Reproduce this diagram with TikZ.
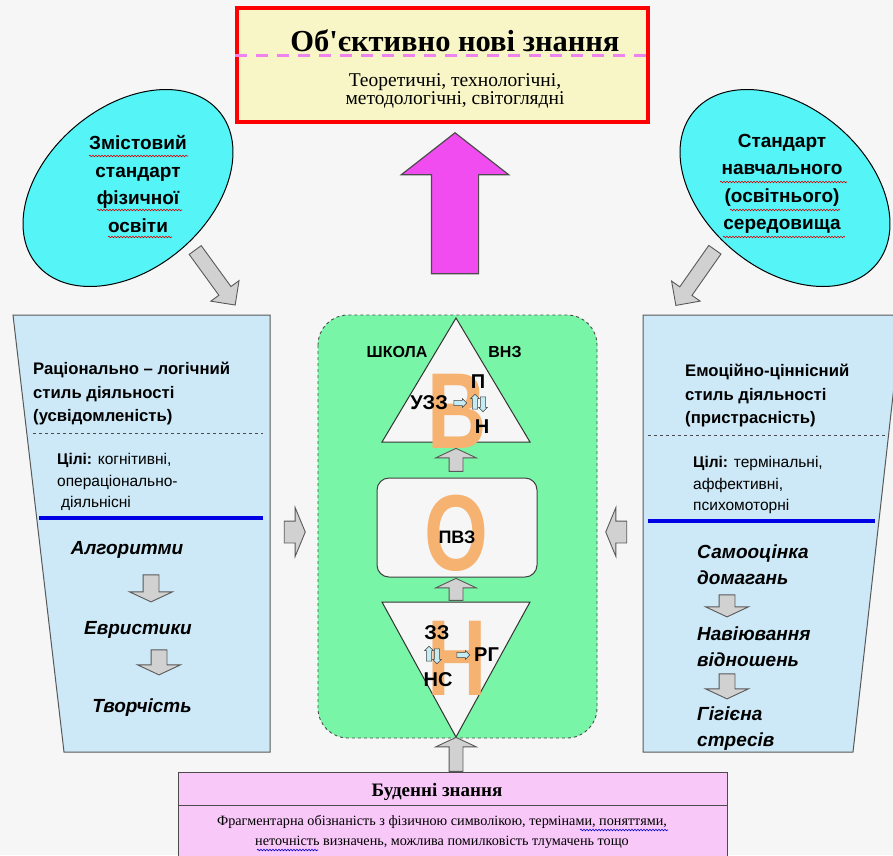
\documentclass[tikz,border=0pt]{standalone}
\usepackage{fontspec}
\setmainfont{Liberation Serif}[Ligatures=TeXOff]
\setsansfont{Liberation Sans}
\usetikzlibrary{shapes.geometric,shapes.arrows,decorations.pathmorphing}

\definecolor{bgcol}{HTML}{F6F6F6}
\definecolor{yellowbox}{HTML}{F8F6C6}
\definecolor{dashpink}{HTML}{EE82EE}
\definecolor{magentaarr}{HTML}{F04CF0}
\definecolor{cyanoval}{HTML}{55F4F7}
\definecolor{panelblue}{HTML}{CDE8F6}
\definecolor{greenbox}{HTML}{78F5A6}
\definecolor{letterorange}{HTML}{F5B270}
\definecolor{pinkbox}{HTML}{F8C8F8}
\definecolor{lightarr}{HTML}{C4ECF4}

\newcommand{\orangeletter}[1]{\scalebox{0.76}[1]{#1}}

\begin{document}
\begin{tikzpicture}[x=1pt,y=-1pt,
	grayarr/.style 2 args={single arrow, draw=black!65, fill=black!18, line width=0.9pt,
		inner xsep=0pt, inner ysep=#1, single arrow head extend=#2},
	smallarr/.style={single arrow, draw=black!75, fill=lightarr, line width=0.5pt,
		inner xsep=0pt, inner ysep=2.3pt, single arrow head extend=1.8pt, minimum height=13pt},
	hdr/.style={font=\fontsize{16.7}{23.5}\selectfont\sffamily\bfseries, align=left, anchor=west, inner sep=0pt},
	goal/.style={font=\fontsize{15.5}{21.5}\selectfont\sffamily, align=left, anchor=west, inner sep=0pt},
	item/.style={font=\fontsize{19}{26}\selectfont\sffamily\bfseries\itshape, align=left, inner sep=0pt},
	oval/.style={ellipse, draw=black, line width=1pt, fill=cyanoval, minimum width=238pt, minimum height=162pt},
	ovaltext/.style={font=\fontsize{19}{27.5}\selectfont\sffamily\bfseries, align=center, inner sep=0pt},
	bigletter/.style={font=\fontsize{108}{108}\selectfont\sffamily\bfseries, text=letterorange, inner sep=0pt},
	lbl/.style={font=\fontsize{20}{20}\selectfont\sffamily\bfseries, inner sep=0pt},
	spellred/.style={red!85!black, line width=0.6pt, decorate, decoration={snake, amplitude=0.8pt, segment length=3pt}},
	spellblue/.style={spellred, blue!80!black},
	]
	\useasboundingbox (0,0) rectangle (893,855);
	\clip (0,0) rectangle (893,855);
	\fill[bgcol] (0,0) rectangle (893,855);

	% top box
	\node[draw=red, line width=4pt, fill=yellowbox, minimum width=411pt, minimum height=114pt, inner sep=0pt] (objbox) at (442.5,65) {};
	\draw[dashpink, line width=3pt, dash pattern=on 12pt off 9pt] (objbox.west |- 0,55) -- (objbox.east |- 0,55);
	\node[font=\fontsize{30.5}{30}\selectfont\bfseries, inner sep=0pt] (objtitle) at (455,41) {Об'єктивно нові знання};
	\node[font=\fontsize{19.5}{17.5}\selectfont, align=center, inner sep=0pt] (objsub) at (455,91) {Теоретичні, технологічні,\\методологічні, світоглядні};

	\node[single arrow, draw=black!70, fill=magentaarr, line width=1.2pt, inner xsep=0pt, inner ysep=23pt,
		single arrow head extend=30pt, single arrow tip angle=104, minimum height=141pt, rotate=90] (uparrow) at (455,212.5) {};

	% ovals
	\node[oval, rotate=40] (zmist) at (128,188) {};
	\node[ovaltext] (zmisttxt) at (138,184) {Змістовий\\стандарт\\фізичної\\освіти};
	\draw[spellred] (89,156) -- (188,156);
	\draw[spellred] (97,210) -- (182,210);
	\draw[spellred] (108,237) -- (172,237);
	\node[oval, rotate=-40] (seredov) at (785,188) {};
	\node[ovaltext] (seredovtxt) at (782,184) {Стандарт\\навчального\\(освітнього)\\середовища};
	\draw[spellred] (720,182) -- (847,182);
	\draw[spellred] (730,210) -- (840,210);
	\draw[spellred] (723,237) -- (845,237);

	\node[grayarr={7pt}{10pt}, minimum height=68pt, rotate=-54] (zmistarr) at (213,274.5) {};
	\node[grayarr={7pt}{10pt}, minimum height=68pt, rotate=-125] (seredovarr) at (697.5,274.5) {};

	% side panels
	\draw[black!65, line width=1pt, fill=panelblue] (13,315) -- (270,315) -- (270,752) -- (64,752) -- cycle;
	\draw[black!65, line width=1pt, fill=panelblue] (643,315) -- (902,315) -- (853,752) -- (643,752) -- cycle;

	\node[hdr] (ratio) at (33,394) {Раціонально -- логічний\\стиль діяльності\\(усвідомленість)};
	\draw[black!70, dashed, line width=0.6pt] (33,433) -- (263,433);
	\node[goal] (ratiogoal) at (57,482) {\textbf{Цілі:} когнітивні,\\операціонально-\\\hspace*{4pt}діяльнісні};
	\draw[blue!90!black, line width=3.5pt] (39,518) -- (263,518);
	\node[item] (alg) at (127,550) {Алгоритми};
	\node[item] (evr) at (138,630) {Евристики};
	\node[item] (tvor) at (142,708) {Творчість};
	\node[grayarr={7.5pt}{13.5pt}, single arrow tip angle=130, minimum height=27pt, rotate=-90] (algarr) at (151,586.5) {};
	\node[grayarr={7.5pt}{13.5pt}, single arrow tip angle=130, minimum height=25pt, rotate=-90] (evrarr) at (159,660.5) {};

	\node[hdr] (emo) at (685,396) {Емоційно-ціннісний\\стиль діяльності\\(пристрасність)};
	\draw[black!70, dashed, line width=0.6pt] (648,435) -- (885,435);
	\node[goal] (emogoal) at (693,485) {\textbf{Цілі:} термінальні,\\аффективні,\\психомоторні};
	\draw[blue!90!black, line width=3.5pt] (648,521) -- (875,521);
	\node[item, anchor=west] (samo) at (697,565) {Самооцінка\\домагань};
	\node[item, anchor=west] (naviu) at (697,646.5) {Навіювання\\відношень};
	\node[item, anchor=west] (gig) at (697,728.5) {Гігієна\\стресів};
	\node[grayarr={7.5pt}{13.5pt}, single arrow tip angle=130, minimum height=22pt, rotate=-90] (samoarr) at (727,604) {};
	\node[grayarr={7.5pt}{13.5pt}, single arrow tip angle=130, minimum height=25pt, rotate=-90] (naviuarr) at (727,684.5) {};

	\node[grayarr={10.5pt}{13.5pt}, single arrow tip angle=135, minimum height=21pt] (leftarr) at (292.5,532) {};
	\node[grayarr={10.5pt}{13.5pt}, single arrow tip angle=135, minimum height=21pt, rotate=180] (rightarr) at (618.5,532) {};

	% centre
	\draw[black!70, dashed, line width=0.9pt, fill=greenbox, rounded corners=30pt] (318,315) rectangle (597,738);
	\draw[black!80, line width=1pt, fill=bgcol] (456,318) -- (530,442) -- (382,442) -- cycle;
	\draw[black!80, line width=1pt, fill=bgcol] (382,602) -- (530,602) -- (456,737) -- cycle;
	\node[draw=black!75, line width=1pt, fill=bgcol, rounded corners=12pt, minimum width=160pt, minimum height=99pt] (pvzbox) at (457,527.5) {};

	\node[bigletter] (letv) at (457,411) {\orangeletter{В}};
	\node[bigletter] (leto) at (456,533) {\orangeletter{О}};
	\node[bigletter] (letn) at (457,658) {\orangeletter{Н}};

	\node[font=\fontsize{16}{16}\selectfont\sffamily\bfseries, inner sep=0pt] (school) at (397,352) {ШКОЛА};
	\node[font=\fontsize{16}{16}\selectfont\sffamily\bfseries, inner sep=0pt] (vnz) at (505,352) {ВНЗ};
	\node[lbl, anchor=east] (uzz) at (448,403) {УЗЗ};
	\node[lbl] (pp) at (478,382) {П};
	\node[lbl] (nn) at (482,427) {Н};
	\node[smallarr] (uzzarr) at (459,403) {};
	\node[smallarr, minimum height=15pt, rotate=90] (uparr1) at (475,403) {};
	\node[smallarr, minimum height=15pt, rotate=-90] (downarr1) at (483,403) {};

	\node[lbl, font=\fontsize{18}{18}\selectfont\sffamily\bfseries] (pvz) at (457,537) {ПВЗ};

	\node[lbl] (zz) at (437,633) {ЗЗ};
	\node[smallarr, minimum height=15pt, rotate=90] (uparr2) at (429,655) {};
	\node[smallarr, minimum height=15pt, rotate=-90] (downarr2) at (437,655) {};
	\node[smallarr] (rgarr) at (462,655) {};
	\node[lbl, anchor=west] (rg) at (474,655) {РГ};
	\node[lbl] (ns) at (438,680) {НС};

	\node[grayarr={6.5pt}{13.5pt}, single arrow tip angle=130, minimum height=23pt, rotate=90] (arrtop) at (456,461.5) {};
	\node[grayarr={6.5pt}{13.5pt}, single arrow tip angle=130, minimum height=22pt, rotate=90] (arrmid) at (456,591) {};
	\node[grayarr={6.5pt}{13.5pt}, single arrow tip angle=130, minimum height=34pt, rotate=90] (arrbot) at (456,756) {};

	% bottom box
	\draw[black!70, line width=1pt, fill=pinkbox] (178,772) rectangle (727,870);
	\draw[black!70, line width=1pt] (178,805) -- (727,805);
	\node[font=\fontsize{19}{20}\selectfont\bfseries, inner sep=0pt] (budtitle) at (437,792) {Буденні знання};
	\node[font=\fontsize{14.2}{20}\selectfont, align=center, inner sep=0pt] (budtext) at (442,832) {Фрагментарна обізнаність з фізичною символікою, термінами, поняттями,\\неточність визначень, можлива помилковість тлумачень тощо};
	\draw[spellblue] (580,830) -- (668,830);
	\draw[spellblue] (257,850) -- (318,850);
\end{tikzpicture}
\end{document}
